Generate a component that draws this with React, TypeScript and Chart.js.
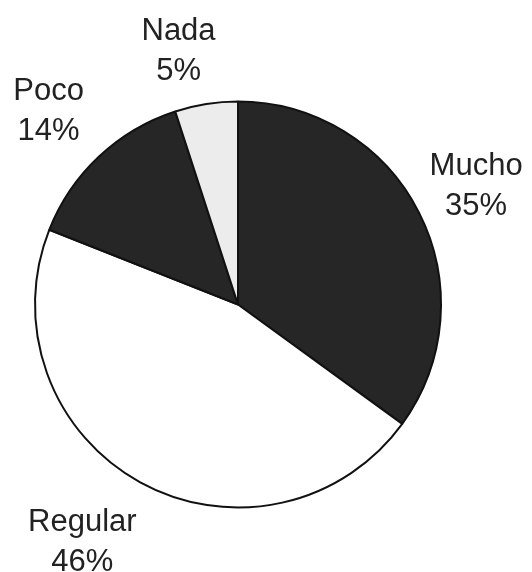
import React, { useEffect, useRef } from "react";
import { Chart, registerables } from "chart.js";

Chart.register(...registerables);

const categories: string[] = ["Mucho", "Regular", "Poco", "Nada"];
const percentages: number[] = [35, 46, 14, 5];
const percentLabels: string[] = ["35%", "46%", "14%", "5%"];

const sliceColors = ["#262626", "#ffffff", "#262626", "#ececec"];
// label placement tweaks (style only): extra distance beyond radius, and x/y nudge
const labelNudge = [
  { d: 62, dx: 2, dy: 2 },
  { d: 62, dx: -28, dy: 6 },
  { d: 62, dx: -8, dy: 0 },
  { d: 62, dx: -18, dy: 9 },
];

const labelPlugin = {
  id: "outerLabels",
  afterDraw(chart: any) {
    const ctx = chart.ctx;
    const meta = chart.getDatasetMeta(0);
    ctx.save();
    ctx.font = "31px 'Liberation Sans', Arial, sans-serif";
    ctx.fillStyle = "#222";
    ctx.textAlign = "center";
    ctx.textBaseline = "middle";
    meta.data.forEach((arc: any, i: number) => {
      const p = arc.getProps(["x", "y", "startAngle", "endAngle", "outerRadius"], true);
      const mid = (p.startAngle + p.endAngle) / 2;
      const n = labelNudge[i];
      const r = p.outerRadius + n.d;
      const cx = p.x + Math.cos(mid) * r + n.dx;
      const cy = p.y + Math.sin(mid) * r + n.dy;
      ctx.fillText(categories[i], cx, cy - 20);
      ctx.fillText(percentLabels[i], cx, cy + 20);
    });
    ctx.restore();
  },
};

export default function App() {
  const ref = useRef<HTMLCanvasElement | null>(null);
  useEffect(() => {
    document.body.style.margin = "0";
    document.body.style.background = "#fff";
    if (!ref.current) return;
    const chart = new Chart(ref.current, {
      type: "pie",
      data: {
        labels: categories,
        datasets: [
          {
            data: percentages,
            backgroundColor: sliceColors,
            borderColor: "#111",
            borderWidth: 2,
          },
        ],
      },
      options: {
        animation: false,
        responsive: false,
        rotation: 0,
        layout: { padding: { left: 34, right: 90, top: 97, bottom: 60 } },
        plugins: {
          legend: { display: false },
          tooltip: { enabled: false },
        },
      },
      plugins: [labelPlugin],
    });
    return () => chart.destroy();
  }, []);
  return (
    <div style={{ width: 532, height: 572, background: "#fff" }}>
      <canvas ref={ref} width={532} height={572} style={{ display: "block" }} />
    </div>
  );
}
